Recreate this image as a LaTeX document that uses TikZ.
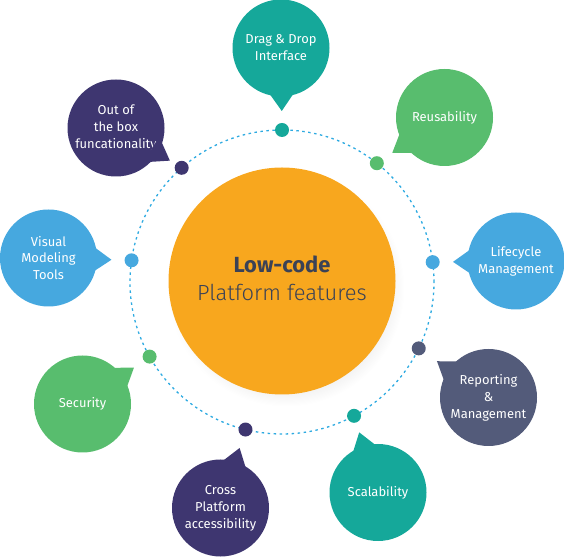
\documentclass[tikz,border=0pt]{standalone}
\usepackage{fontspec}
\setmainfont{Fira Sans}
\newfontfamily\lightfont{Fira Sans Light}
\usetikzlibrary{calc,shadows}
\definecolor{mlteal}{RGB}{21,168,154}
\definecolor{mlgreen}{RGB}{88,189,110}
\definecolor{mlblue}{RGB}{70,168,223}
\definecolor{mlslate}{RGB}{83,91,122}
\definecolor{mlpurple}{RGB}{62,54,112}
\definecolor{mlorange}{RGB}{248,167,30}
\definecolor{mldark}{RGB}{59,66,86}
\definecolor{mlring}{RGB}{45,170,225}

\begin{document}
\begin{tikzpicture}[x=1bp,y=1bp,
  bubble/.style={circle,minimum size=97bp,inner sep=0pt,text=white,
    font=\fontsize{13}{17}\selectfont,align=center},
  dot/.style={circle,minimum size=14bp,inner sep=0pt},
  ring/.style={mlring,line width=1.3bp,dash pattern=on 2.5bp off 3.5bp}
]
  \useasboundingbox (0,0) rectangle (564,558);
  \coordinate (ctr) at (282,276);

  % Dotted ring
  \draw[ring] (ctr) circle (152);

  % Center circle
  \node[circle,fill=mlorange,minimum size=227bp,inner sep=0pt,
    circular drop shadow={shadow xshift=4bp,shadow yshift=-7bp,shadow scale=1.04,opacity=0.12}]
    (core) at (282,277) {};
  \node[font=\fontsize{22}{28}\selectfont,text=mldark,align=center] (coretxt) at (282,280)
    {\bfseries Low-code\\\lightfont Platform features};

  % Dots on the ring
  \node[dot,fill=mlteal]   (dDrag)   at ($(ctr)+(90:152)$) {};
  \node[dot,fill=mlgreen]  (dReuse)  at ($(ctr)+(51.4:152)$) {};
  \node[dot,fill=mlblue]   (dLife)   at ($(ctr)+(7.5:152)$) {};
  \node[dot,fill=mlslate]  (dReport) at ($(ctr)+(-25.9:152)$) {};
  \node[dot,fill=mlteal]   (dScale)  at ($(ctr)+(-61.7:152)$) {};
  \node[dot,fill=mlpurple] (dCross)  at ($(ctr)+(-103.9:152)$) {};
  \node[dot,fill=mlgreen]  (dSecure) at ($(ctr)+(209.4:152)$) {};
  \node[dot,fill=mlblue]   (dVisual) at ($(ctr)+(171.8:152)$) {};
  \node[dot,fill=mlpurple] (dBox)    at ($(ctr)+(131.3:152)$) {};

  % Feature bubbles
  \node[bubble,fill=mlteal]   (drag)   at (281,510)   {Drag \& Drop\\Interface};
  \node[bubble,fill=mlgreen]  (reuse)  at (444.5,440.5) {Reusability};
  \node[bubble,fill=mlblue]   (life)   at (516,297)   {Lifecycle\\Management};
  \node[bubble,fill=mlslate]  (report) at (488.5,160.5) {Reporting\\\&\\Management};
  \node[bubble,fill=mlteal]   (scale)  at (378,65.5)  {Scalability};
  \node[bubble,fill=mlpurple] (cross)  at (220.5,50)  {Cross\\Platform\\accessibility};
  \node[bubble,fill=mlgreen]  (secure) at (82.5,154)  {Security};
  \node[bubble,fill=mlblue]   (visual) at (48.5,300)  {Visual\\Modeling\\Tools};
  \node[bubble,fill=mlpurple] (box)    at (116,430)   {Out of\\the box\\funcationality};

  % Tails pointing at the dots
  \fill[mlteal] ($(drag.center)!44bp!20:(dDrag.center)$) -- ($(drag.center)!63bp!(dDrag.center)$)
    -- ($(drag.center)!44bp!-20:(dDrag.center)$) -- cycle;
  \fill[mlgreen] ($(reuse.center)!44bp!20:(dReuse.center)$) -- ($(reuse.center)!63bp!(dReuse.center)$)
    -- ($(reuse.center)!44bp!-20:(dReuse.center)$) -- cycle;
  \fill[mlblue] ($(life.center)!44bp!20:(dLife.center)$) -- ($(life.center)!63bp!(dLife.center)$)
    -- ($(life.center)!44bp!-20:(dLife.center)$) -- cycle;
  \fill[mlslate] ($(report.center)!44bp!20:(dReport.center)$) -- ($(report.center)!63bp!(dReport.center)$)
    -- ($(report.center)!44bp!-20:(dReport.center)$) -- cycle;
  \fill[mlteal] ($(scale.center)!44bp!20:(dScale.center)$) -- ($(scale.center)!63bp!(dScale.center)$)
    -- ($(scale.center)!44bp!-20:(dScale.center)$) -- cycle;
  \fill[mlpurple] ($(cross.center)!44bp!20:(dCross.center)$) -- ($(cross.center)!63bp!(dCross.center)$)
    -- ($(cross.center)!44bp!-20:(dCross.center)$) -- cycle;
  \fill[mlgreen] ($(secure.center)!44bp!20:(dSecure.center)$) -- ($(secure.center)!63bp!(dSecure.center)$)
    -- ($(secure.center)!44bp!-20:(dSecure.center)$) -- cycle;
  \fill[mlblue] ($(visual.center)!44bp!20:(dVisual.center)$) -- ($(visual.center)!63bp!(dVisual.center)$)
    -- ($(visual.center)!44bp!-20:(dVisual.center)$) -- cycle;
  \fill[mlpurple] ($(box.center)!44bp!20:(dBox.center)$) -- ($(box.center)!63bp!(dBox.center)$)
    -- ($(box.center)!44bp!-20:(dBox.center)$) -- cycle;
\end{tikzpicture}
\end{document}
